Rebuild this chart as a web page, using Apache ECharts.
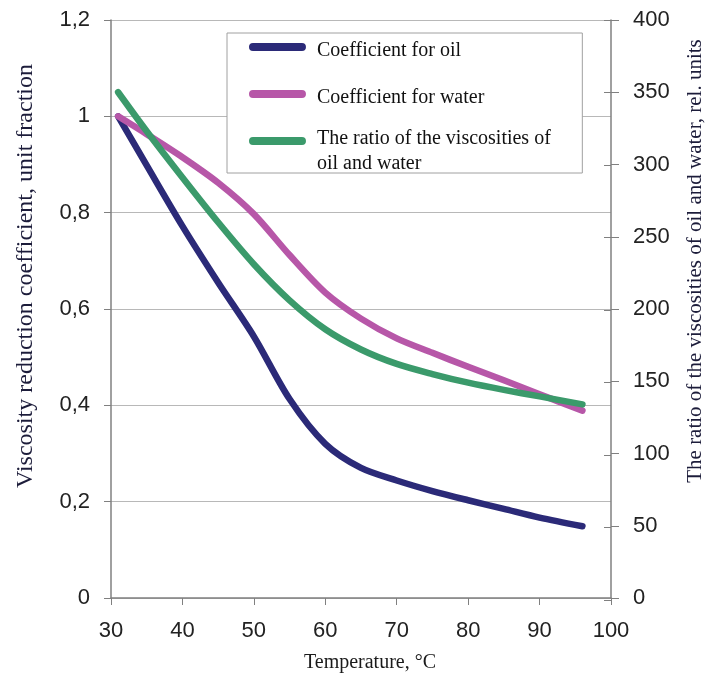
<!DOCTYPE html>
<html>
<head>
<meta charset="utf-8">
<script src="https://cdn.jsdelivr.net/npm/echarts@6/dist/echarts.min.js"></script>
<style>
  html, body { margin: 0; padding: 0; background: #fff; }
  #chart { width: 714px; height: 678px; }
</style>
</head>
<body>
<div id="chart"></div>
<script>
// values
const temperature = [31, 35, 40, 45, 50, 55, 60, 65, 70, 75, 80, 85, 90, 96];
const oilCoef   = [1.0, 0.898, 0.772, 0.655, 0.543, 0.413, 0.32, 0.27, 0.244, 0.222, 0.203, 0.185, 0.167, 0.149];
const waterCoef = [1.0, 0.963, 0.915, 0.862, 0.797, 0.712, 0.634, 0.58, 0.539, 0.509, 0.48, 0.452, 0.423, 0.389];
const viscRatio = [350, 323, 291, 260, 231, 206, 186, 172, 162, 155, 149, 144, 139.5, 134];

const seriesNames = ['Coefficient for oil', 'Coefficient for water', 'The ratio of the viscosities of oil and water'];
const colors = ['#2b2a78', '#b757a8', '#3b9a6b'];

const serif = 'Liberation Serif';
const sans = 'Liberation Sans';
const axisGray = '#808080';

// thick rounded line for the legend; the tiny dot at the bottom only pushes
// the stroke up inside the symbol box so it sits level with the first text line
const lineIcon = (boxH) => 'path://M4,0H53A4,4,0,0,1,53,8H4A4,4,0,0,1,4,0Z'
  + 'M28,' + boxH + 'h0.01v0.01h-0.01Z';

const pairs = (ys) => temperature.map((t, i) => [t, ys[i]]);

const chart = echarts.init(document.getElementById('chart'));

// шаблон линии
const makeLine = (name, data, color, yIdx) => ({
  name: name,
  type: 'line',
  yAxisIndex: yIdx,
  data: data,
  smooth: 0.3,
  showSymbol: false,
  symbol: 'none',
  color: color,
  lineStyle: { width: 6.5, color: color, cap: 'round', join: 'round' },
  z: 2
});

const option = {
  animation: false,
  backgroundColor: '#fff',
  grid: [
    { left: 111, right: 103, top: 20, bottom: 78 },
    { left: 111, right: 103, top: 20, bottom: 78 }
  ],
  legend: [
    {
      data: [seriesNames[0], seriesNames[1]],
      orient: 'vertical',
      left: 227,
      top: 33,
      padding: [7, 98, 64, 22],
      itemWidth: 57,
      itemHeight: 16,
      itemGap: 25,
      icon: lineIcon(16),
      backgroundColor: '#fff',
      borderColor: '#a0a0a0',
      borderWidth: 1,
      selectedMode: false,
      textStyle: { fontFamily: serif, fontSize: 20, lineHeight: 22, color: '#111', padding: [0, 0, 0, 6] },
      z: 3
    },
    {
      data: [seriesNames[2]],
      orient: 'vertical',
      left: 249,
      top: 126,
      padding: 0,
      itemWidth: 57,
      itemHeight: 28,
      icon: lineIcon(28),
      selectedMode: false,
      formatter: () => 'The ratio of the viscosities of\noil and water',
      textStyle: { fontFamily: serif, fontSize: 20, lineHeight: 25, color: '#111', padding: [0, 0, 0, 6] },
      z: 4
    }
  ],
  xAxis: [
    {
      type: 'value',
      gridIndex: 0,
      min: 30,
      max: 100,
      interval: 10,
      name: 'Temperature, °C',
      nameLocation: 'middle',
      nameGap: 55,
      nameTextStyle: { fontFamily: serif, fontSize: 20, color: '#1a1a1a', padding: [0, 0, 0, 18] },
      axisLine: { lineStyle: { color: axisGray, width: 1.5 } },
      axisTick: { show: true, length: 7, lineStyle: { color: axisGray } },
      axisLabel: { fontFamily: sans, fontSize: 22, color: '#222', margin: 22 },
      splitLine: { show: false }
    },
    { type: 'value', gridIndex: 1, min: 30, max: 100, show: false }
  ],
  yAxis: [
    {
      type: 'value',
      gridIndex: 0,
      position: 'left',
      min: 0,
      max: 1.2,
      interval: 0.2,
      name: 'Viscosity reduction coefficient, unit fraction',
      nameLocation: 'middle',
      nameGap: 73,
      nameTextStyle: { fontFamily: serif, fontSize: 24, color: '#1c1c3a', padding: [0, 0, 0, 66] },
      axisLine: { show: true, lineStyle: { color: axisGray, width: 1.5 } },
      axisTick: { show: true, length: 7, lineStyle: { color: axisGray } },
      axisLabel: {
        fontFamily: sans, fontSize: 22, color: '#222', margin: 21,
        formatter: (v) => String(+v.toFixed(1)).replace('.', ',')
      },
      splitLine: { show: true, lineStyle: { color: '#b8b8b8', width: 1.2 } }
    },
    {
      type: 'value',
      gridIndex: 0,
      position: 'right',
      min: 0,
      max: 400,
      interval: 50,
      name: 'The ratio of the viscosities of oil and water, rel. units',
      nameLocation: 'middle',
      nameGap: 74,
      nameTextStyle: { fontFamily: serif, fontSize: 21, color: '#1c1c3a', padding: [0, 0, 0, 96] },
      axisLine: { show: true, lineStyle: { color: axisGray, width: 1.5 } },
      axisTick: { show: true, length: 8, lineStyle: { color: axisGray } },
      axisLabel: { fontFamily: sans, fontSize: 22, color: '#222', margin: 22 },
      splitLine: { show: false }
    },
    {
      // inner half of the right-axis ticks
      type: 'value',
      gridIndex: 1,
      position: 'right',
      min: 0,
      max: 400,
      interval: 50,
      axisLine: { show: false },
      axisTick: { show: true, inside: true, length: 7, lineStyle: { color: axisGray } },
      axisLabel: { show: false },
      splitLine: { show: false }
    }
  ],
  series: [
    makeLine(seriesNames[0], pairs(oilCoef), colors[0], 0),
    makeLine(seriesNames[1], pairs(waterCoef), colors[1], 0),
    makeLine(seriesNames[2], pairs(viscRatio), colors[2], 1)
  ]
};

chart.setOption(option);
window.addEventListener('resize', () => chart.resize());
</script>
</body>
</html>
